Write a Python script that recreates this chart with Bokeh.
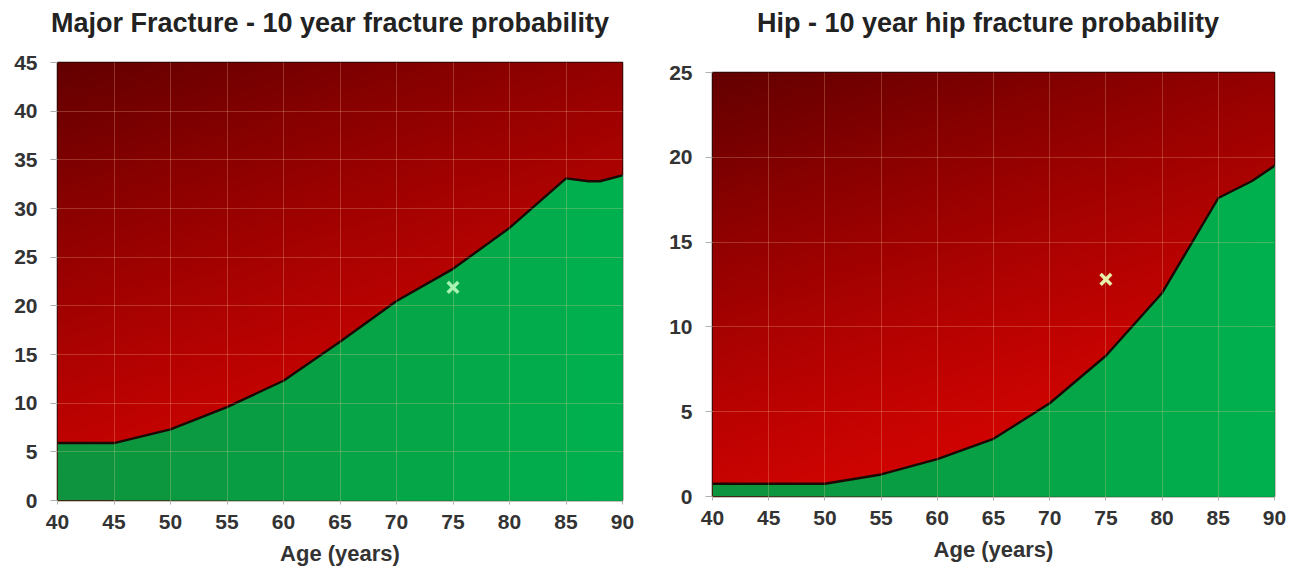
import numpy as np
from bokeh.plotting import figure
from bokeh.layouts import row, column
from bokeh.models import Range1d, FixedTicker
from bokeh.core.properties import value
from bokeh.embed import file_html
from bokeh.resources import INLINE

# ---- data ----
ages_major = [40, 45, 50, 55, 60, 65, 70, 75, 80, 85, 87, 88, 90]
prob_major = [5.9, 5.9, 7.3, 9.6, 12.3, 16.3, 20.5, 23.8, 28.0, 33.1, 32.8, 32.8, 33.4]
patient_major = (75, 21.9)

ages_hip = [40, 45, 50, 55, 60, 65, 70, 75, 80, 85, 88, 90]
prob_hip = [0.75, 0.75, 0.75, 1.3, 2.2, 3.4, 5.5, 8.3, 12.0, 17.6, 18.6, 19.5]
patient_hip = (75, 12.8)

x_ticks = [40, 45, 50, 55, 60, 65, 70, 75, 80, 85, 90]
y_ticks_major = [0, 5, 10, 15, 20, 25, 30, 35, 40, 45]
y_ticks_hip = [0, 5, 10, 15, 20, 25]

title_major = "Major Fracture - 10 year fracture probability"
title_hip = "Hip - 10 year hip fracture probability"
x_label = "Age (years)"

FONT = "Liberation Sans"
PANEL_W = 650
TITLE_H = 44


def red_gradient(nx=140, ny=140):
    u = np.linspace(0, 1, nx)[None, :]
    v = np.linspace(0, 1, ny)[:, None]
    t = np.clip(0.7 * v + 0.3 * (1 - u), 0, 1) ** 1.3
    dark = np.array([100, 0, 0])
    bright = np.array([228, 4, 2])
    img = np.empty((ny, nx), dtype=np.uint32)
    view = img.view(dtype=np.uint8).reshape((ny, nx, 4))
    for c in range(3):
        view[:, :, c] = (bright[c] * (1 - t) + dark[c] * t).astype(np.uint8)
    view[:, :, 3] = 255
    return img


def green_color(frac):
    a = np.array([14, 148, 62])
    b = np.array([0, 178, 80])
    c = (a * (1 - frac) + b * frac).astype(int)
    return "#%02x%02x%02x" % tuple(c)


def make_title(text, center_x):
    t = figure(width=PANEL_W, height=TITLE_H, output_backend="svg",
               toolbar_location=None, x_range=Range1d(0, PANEL_W),
               y_range=Range1d(0, TITLE_H), min_border_left=0,
               min_border_right=0, min_border_top=0, min_border_bottom=0)
    t.axis.visible = False
    t.grid.visible = False
    t.outline_line_color = None
    t.background_fill_color = "white"
    t.border_fill_color = "white"
    t.text(x=[center_x], y=[TITLE_H / 2], text=[text],
           text_font=value(FONT), text_font_size="27px",
           text_font_style="bold", text_color="#222222",
           text_align="center", text_baseline="middle")
    return t


def make_panel(ages, probs, patient, ymax, yticks, height,
               bl, br, bt, bb, marker_color):
    p = figure(width=PANEL_W, height=height, output_backend="svg",
               toolbar_location=None, x_range=Range1d(40, 90),
               y_range=Range1d(0, ymax), min_border_left=bl,
               min_border_right=br, min_border_top=bt, min_border_bottom=bb)
    p.background_fill_color = "white"
    p.border_fill_color = "white"

    # background red gradient
    p.image_rgba(image=[red_gradient()], x=40, y=0, dw=50, dh=ymax)

    # green area with horizontal gradient (overlapping patches)
    xs, ys, cols = [], [], []
    n = len(ages)
    for i in range(n - 1):
        xs.append(list(ages[i:]) + [ages[-1], ages[i]])
        ys.append(list(probs[i:]) + [0, 0])
        cols.append(green_color((ages[i] - 40) / 50.0))
    p.patches(xs, ys, fill_color=cols, line_color=None)

    # boundary line
    p.line(ages, probs, line_color="#1a0a05", line_width=2.4)

    # patient marker
    p.scatter([patient[0]], [patient[1]], marker="x", size=15,
              line_width=3.5, line_color=marker_color)

    # grid
    for g in (p.xgrid, p.ygrid):
        g.grid_line_color = "#ffd9a0"
        g.grid_line_alpha = 0.24
        g.grid_line_width = 1
        g.level = "annotation"
    p.xgrid.ticker = FixedTicker(ticks=x_ticks)
    p.ygrid.ticker = FixedTicker(ticks=yticks)

    p.outline_line_color = "#2a0a05"
    p.outline_line_width = 1.5

    p.xaxis.ticker = FixedTicker(ticks=x_ticks)
    p.yaxis.ticker = FixedTicker(ticks=yticks)
    for ax in (p.xaxis[0], p.yaxis[0]):
        ax.axis_line_color = None
        ax.major_tick_line_color = "#b0b0b0"
        ax.minor_tick_line_color = None
        ax.major_tick_in = 0
        ax.major_label_text_font = FONT
        ax.major_label_text_font_style = "bold"
        ax.major_label_text_font_size = "21px"
        ax.major_label_text_color = "#333333"
    p.yaxis.major_tick_out = 7
    p.yaxis.major_label_standoff = 13
    p.xaxis.major_tick_out = 4
    p.xaxis.major_label_standoff = 10
    p.xaxis.axis_label = x_label
    p.xaxis.axis_label_text_font = FONT
    p.xaxis.axis_label_text_font_style = "bold"
    p.xaxis.axis_label_text_font_size = "22px"
    p.xaxis.axis_label_text_color = "#333333"
    p.xaxis.axis_label_standoff = 9
    return p


PLOT_H = 527
t1 = make_title(title_major, 329.5)
p1 = make_panel(ages_major, prob_major, patient_major, 45, y_ticks_major,
                PLOT_H, 57, 28, 62 - TITLE_H, PLOT_H - (500 - TITLE_H),
                "#a6f2b0")
t2 = make_title(title_hip, 337.5)
p2 = make_panel(ages_hip, prob_hip, patient_hip, 25, y_ticks_hip,
                PLOT_H, 62, 26, 72 - TITLE_H, PLOT_H - (496 - TITLE_H),
                "#e6f0a8")

layout = row(column(column(t1), column(p1)), column(column(t2), column(p2)))
open("out.html", "w").write(file_html(layout, INLINE))
